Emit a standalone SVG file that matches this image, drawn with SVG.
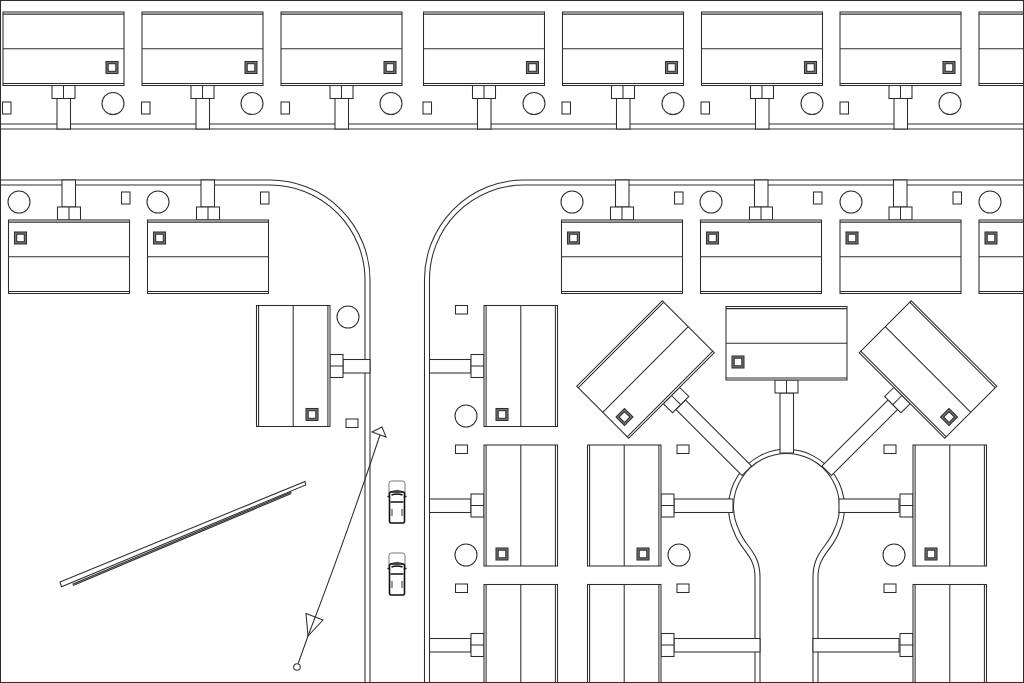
<svg xmlns="http://www.w3.org/2000/svg" xmlns:xlink="http://www.w3.org/1999/xlink" width="1024" height="683" viewBox="0 0 1024 683">
<style>
.l{fill:none;stroke:#2e2e2e;stroke-width:1.05}
.w{fill:#fff;stroke:#2e2e2e;stroke-width:1.05}
.b{fill:#777;stroke:#2e2e2e;stroke-width:1.05}
.k{fill:#fff;stroke:#111;stroke-width:1.6}
.g{fill:#fff;stroke:#666;stroke-width:.9}
</style>
<defs>
<g id="house">
<rect class="w" x="-11.500" y="0" width="23" height="13"/>
<path class="l" d="M0 0V13"/>
<rect class="w" x="-60.500" y="-73.500" width="121" height="73.500"/>
<path class="l" d="M-60.500 -71.400H60.500M-60.500 -36.800H60.500M-60.500 -2.100H60.500"/>
<rect class="b" x="42.500" y="-24" width="12" height="12"/>
<rect class="w" x="44.700" y="-21.800" width="7.600" height="7.600"/>
</g>
<g id="car">
<rect class="g" x="-8" y="0" width="16" height="16" rx="2.500"/>
<path class="l" d="M-6.500 11Q0 8 6.500 11" stroke="#666"/>
<rect class="k" x="-7.500" y="11" width="15" height="31" rx="1.500"/>
<path class="k" d="M-9.500 15.500H-7M7 15.500H9.500M-6.500 21H6.500M-5.500 14Q0 12 5.500 14"/>
<rect x="-6.500" y="28" width="2.500" height="7" fill="#999"/>
<rect x="4" y="28" width="2.500" height="7" fill="#999"/>
</g>
</defs>
<rect width="1024" height="683" fill="#fff"/>
<g id="roads">
<path class="l" d="M0 124H1024M0 129H1024"/>
<path class="l" d="M0 180H270A100 100 0 0 1 370 280V683M0 185H270A95 95 0 0 1 365 280V683"/>
<path class="l" d="M1024 180H524A99.500 99.500 0 0 0 424.500 280V683M1024 185H524A94.500 94.500 0 0 0 429.500 280V683"/>
<path class="l" d="M760 683V577C760 552 745 547 739 530A53 53 0 1 1 834 530C828 547 813 552 813 577V683"/>
<path class="l" d="M755 683V577C755 555 740 550 734 532A58 58 0 1 1 839 532C833 550 818 555 818 577V683"/>
</g>
<g id="connectors">
<rect class="w" x="57" y="98" width="13.500" height="31"/>
<rect class="w" x="196" y="98" width="13.500" height="31"/>
<rect class="w" x="335" y="98" width="13.500" height="31"/>
<rect class="w" x="477.500" y="98" width="13.500" height="31"/>
<rect class="w" x="616.500" y="98" width="13.500" height="31"/>
<rect class="w" x="755.500" y="98" width="13.500" height="31"/>
<rect class="w" x="894" y="98" width="13.500" height="31"/>
<rect class="w" x="62" y="180" width="13.500" height="27"/>
<rect class="w" x="201" y="180" width="13.500" height="27"/>
<rect class="w" x="615.500" y="180" width="13.500" height="27"/>
<rect class="w" x="754.500" y="180" width="13.500" height="27"/>
<rect class="w" x="893.500" y="180" width="13.500" height="27"/>
<rect class="w" x="343" y="359.500" width="27" height="13.500"/>
<rect class="w" x="429.500" y="359.500" width="41.500" height="13.500"/>
<rect class="w" x="429.500" y="499" width="41.500" height="13.500"/>
<rect class="w" x="429.500" y="638.500" width="41.500" height="13.500"/>
<rect class="w" x="674" y="499" width="59" height="13.500"/>
<rect class="w" x="674" y="638.500" width="86" height="13.500"/>
<rect class="w" x="839" y="499" width="60" height="13.500"/>
<rect class="w" x="813" y="638.500" width="86" height="13.500"/>
<rect class="w" x="780" y="393" width="13.500" height="60"/>
<rect class="w" x="-6.750" y="13" width="13.500" height="93.500" transform="translate(671.500 395.500) rotate(-45) scale(-1 1)"/>
<rect class="w" x="-6.750" y="13" width="13.500" height="93.500" transform="translate(902 395.500) rotate(45)"/>
</g>
<g id="houses">
<g id="house-t1" transform="translate(63.500 85.500)"><use href="#house"/></g>
<g id="house-t2" transform="translate(202.500 85.500)"><use href="#house"/></g>
<g id="house-t3" transform="translate(341.500 85.500)"><use href="#house"/></g>
<g id="house-t4" transform="translate(484 85.500)"><use href="#house"/></g>
<g id="house-t5" transform="translate(623 85.500)"><use href="#house"/></g>
<g id="house-t6" transform="translate(762 85.500)"><use href="#house"/></g>
<g id="house-t7" transform="translate(900.500 85.500)"><use href="#house"/></g>
<g id="house-t8" transform="translate(1039.500 85.500)"><use href="#house"/></g>
<g id="house-m1" transform="translate(69 220) rotate(180)"><use href="#house"/></g>
<g id="house-m2" transform="translate(208 220) rotate(180)"><use href="#house"/></g>
<g id="house-m3" transform="translate(622 220) rotate(180)"><use href="#house"/></g>
<g id="house-m4" transform="translate(761 220) rotate(180)"><use href="#house"/></g>
<g id="house-m5" transform="translate(900.500 220) rotate(180)"><use href="#house"/></g>
<g id="house-m6" transform="translate(1039.500 220) rotate(180)"><use href="#house"/></g>
<g id="house-s1" transform="translate(330 366) rotate(-90) scale(-1 1)"><use href="#house"/></g>
<g id="house-r1" transform="translate(484 366) rotate(90)"><use href="#house"/></g>
<g id="house-r2" transform="translate(484 505.500) rotate(90)"><use href="#house"/></g>
<g id="house-r3" transform="translate(484 645) rotate(90)"><use href="#house"/></g>
<g id="house-c1" transform="translate(661 505.500) rotate(-90) scale(-1 1)"><use href="#house"/></g>
<g id="house-c2" transform="translate(661 645) rotate(-90) scale(-1 1)"><use href="#house"/></g>
<g id="house-e1" transform="translate(913 505.500) rotate(90)"><use href="#house"/></g>
<g id="house-e2" transform="translate(913 645) rotate(90)"><use href="#house"/></g>
<g id="house-top" transform="translate(786.500 380) scale(-1 1)"><use href="#house"/></g>
<g id="house-dl" transform="translate(671.500 395.500) rotate(-45) scale(-1 1)"><use href="#house"/></g>
<g id="house-dr" transform="translate(902 395.500) rotate(45)"><use href="#house"/></g>
</g>
<g id="site-items">
<circle class="l" cx="113" cy="103.500" r="11"/><circle class="l" cx="252" cy="103.500" r="11"/><circle class="l" cx="391" cy="103.500" r="11"/><circle class="l" cx="534" cy="103.500" r="11"/><circle class="l" cx="673" cy="103.500" r="11"/><circle class="l" cx="812" cy="103.500" r="11"/><circle class="l" cx="950" cy="103.500" r="11"/>
<circle class="l" cx="19" cy="202" r="11"/><circle class="l" cx="158" cy="202" r="11"/><circle class="l" cx="572" cy="202" r="11"/><circle class="l" cx="711" cy="202" r="11"/><circle class="l" cx="851" cy="202" r="11"/><circle class="l" cx="990" cy="202" r="11"/>
<circle class="l" cx="348" cy="317" r="11"/><circle class="l" cx="466" cy="416" r="11"/><circle class="l" cx="466" cy="555" r="11"/><circle class="l" cx="679" cy="555" r="11"/><circle class="l" cx="894" cy="555" r="11"/>
<rect class="l" x="2.500" y="102" width="8.500" height="12"/><rect class="l" x="141.500" y="102" width="8.500" height="12"/><rect class="l" x="281" y="102" width="8.500" height="12"/><rect class="l" x="423" y="102" width="8.500" height="12"/><rect class="l" x="562" y="102" width="8.500" height="12"/><rect class="l" x="701" y="102" width="8.500" height="12"/><rect class="l" x="840" y="102" width="8.500" height="12"/>
<rect class="l" x="121.500" y="192" width="8.500" height="12"/><rect class="l" x="260.500" y="192" width="8.500" height="12"/><rect class="l" x="674.500" y="192" width="8.500" height="12"/><rect class="l" x="813.500" y="192" width="8.500" height="12"/><rect class="l" x="953" y="192" width="8.500" height="12"/>
<rect class="l" x="346" y="419" width="12" height="8.500"/><rect class="l" x="455.500" y="305.500" width="12" height="8.500"/><rect class="l" x="455.500" y="445" width="12" height="8.500"/><rect class="l" x="455.500" y="584" width="12" height="8.500"/>
<rect class="l" x="677" y="445" width="12" height="8.500"/><rect class="l" x="677" y="584" width="12" height="8.500"/><rect class="l" x="884" y="445" width="12" height="8.500"/><rect class="l" x="884" y="584" width="12" height="8.500"/>
</g>
<g id="wall">
<path class="l" d="M72.500 584.200L291.500 492M73 585.600L291.300 493.400"/>
<path class="w" d="M60 582L305 481.500L305.700 485L61.500 586.700Z"/>
</g>
<g id="section-arrow">
<path class="l" d="M298.200 663.500L308 636Q345 540 380 435"/>
<circle class="l" cx="297" cy="667" r="3.300"/>
<path class="l" d="M306 613.500L323 620L308 636Z"/>
<path class="l" d="M372 432L382 427L386 437Z"/>
</g>
<g id="car-1" transform="translate(397 481)"><use href="#car"/></g>
<g id="car-2" transform="translate(397 553)"><use href="#car"/></g>
<rect class="l" x="0.500" y="0.500" width="1023" height="682"/>
</svg>
